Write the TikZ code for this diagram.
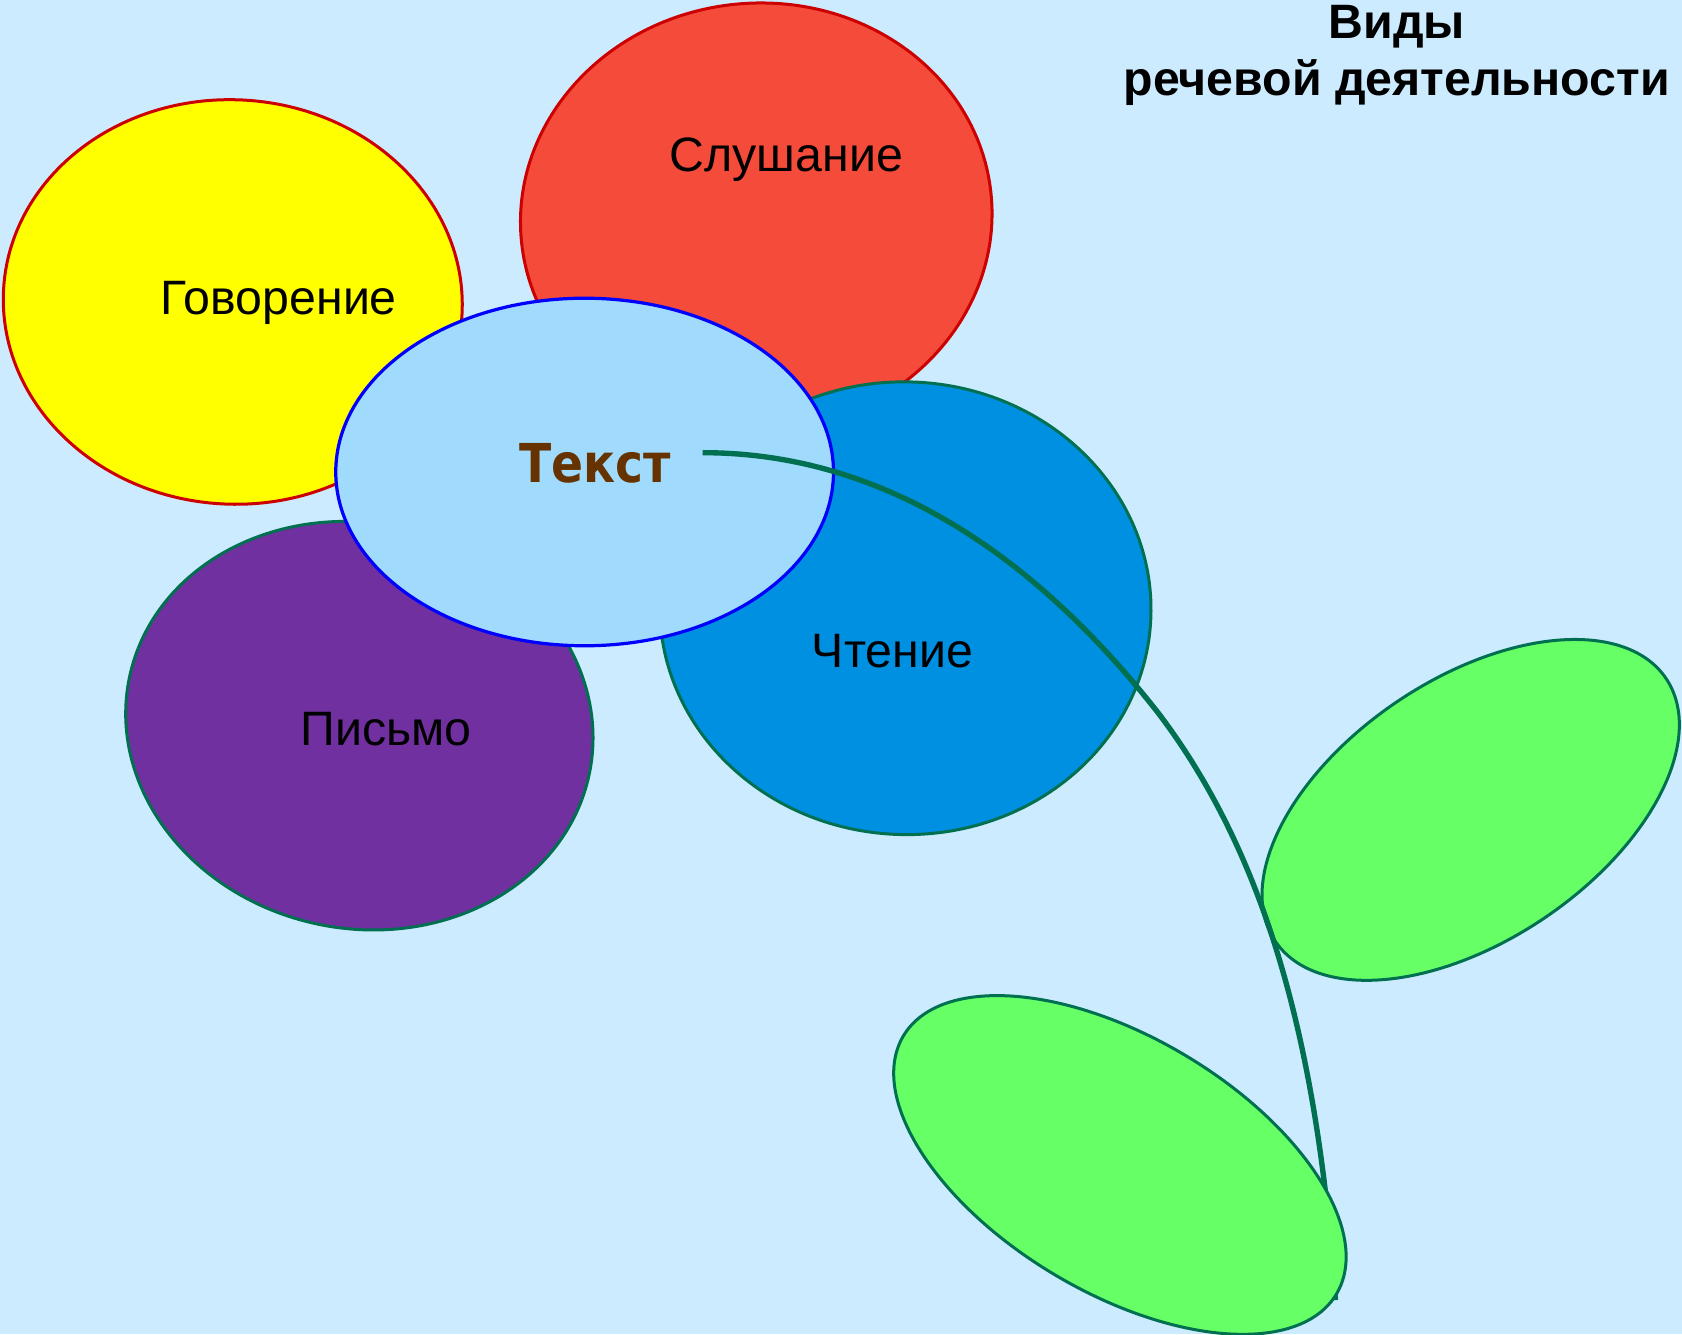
\documentclass[tikz,border=0pt]{standalone}
\usepackage{fontspec}
\setmainfont{Liberation Sans}
\newfontfamily\tekstfont{DejaVu Sans}[FakeStretch=0.88]
\usetikzlibrary{shapes.geometric}
\definecolor{bgc}{HTML}{CCEBFE}
\definecolor{yel}{HTML}{FFFF00}
\definecolor{redf}{HTML}{F44B3A}
\definecolor{redd}{HTML}{CC0000}
\definecolor{bluef}{HTML}{0090E2}
\definecolor{purf}{HTML}{7030A0}
\definecolor{tekf}{HTML}{A0DBFD}
\definecolor{tekd}{HTML}{0000FF}
\definecolor{leaff}{HTML}{66FF66}
\definecolor{stemc}{HTML}{007050}
\definecolor{brownt}{HTML}{663300}
\tikzset{
  petal/.style={ellipse, inner sep=0pt, outer sep=0pt, line width=2.8pt},
  lbl/.style={font=\fontsize{45}{52}\selectfont, inner sep=0pt, text=black},
  ttl/.style={font=\bfseries\fontsize{45}{52}\selectfont, inner sep=0pt, anchor=base},
}
\begin{document}
\begin{tikzpicture}[x=1pt,y=-1pt]
\useasboundingbox (0,0) rectangle (1568,1244);
\fill[bgc] (0,0) rectangle (1568,1244);
% petals
\node[petal, draw=redd, fill=yel, minimum width=428pt, minimum height=377pt, rotate=-3] (gov) at (217,281.5) {};
\node[petal, draw=redd, fill=redf, minimum width=440pt, minimum height=400pt, rotate=6] (slu) at (705,203) {};
\node[petal, draw=stemc, fill=purf, minimum width=438pt, minimum height=378pt, rotate=-12] (pis) at (335,676.5) {};
\node[petal, draw=stemc, fill=bluef, minimum width=458pt, minimum height=422pt, rotate=-2] (cht) at (844,567) {};
\node[petal, draw=tekd, fill=tekf, minimum width=464pt, minimum height=324pt, line width=3pt] (tek) at (545,440) {};
% right leaf
\node[petal, draw=stemc, fill=leaff, minimum width=439pt, minimum height=244pt, rotate=33.9] (leafr) at (1371,755) {};
% stem
\coordinate (stemA) at (655,422);
\coordinate (stemM) at (1080,665);
\coordinate (stemB) at (1245,1212);
\draw[stemc, line width=5pt] (stemA) .. controls (850,422) and (990,550) .. (stemM) .. controls (1190,810) and (1230,1000) .. (stemB);
% bottom leaf
\node[petal, draw=stemc, fill=leaff, minimum width=470pt, minimum height=238pt, rotate=-30.8] (leafb) at (1044,1086) {};
% labels
\node[lbl] (tgov) at (260,282) {Говорение};
\node[lbl] (tslu) at (733,149) {Слушание};
\node[lbl] (tcht) at (832,607) {Чтение};
\node[lbl] (tpis) at (360,680) {Письмо};
\node[inner sep=0pt, text=brownt, font=\tekstfont\bfseries\fontsize{50}{56}\selectfont] (ttek) at (555,432) {Текст};
\node[ttl] (title1) at (1302,36) {Виды};
\node[ttl] (title2) at (1302,89) {речевой деятельности};
\end{tikzpicture}
\end{document}
